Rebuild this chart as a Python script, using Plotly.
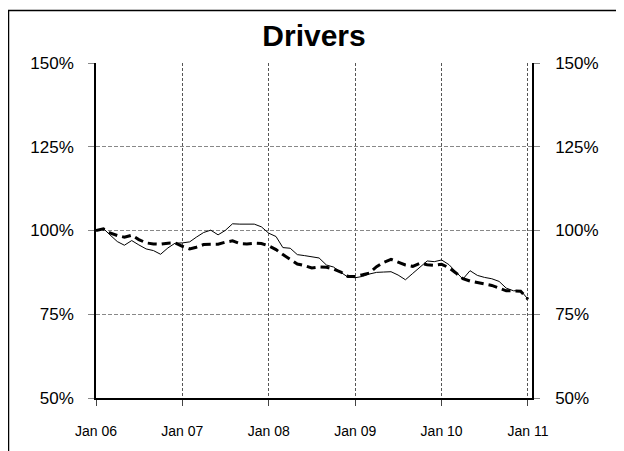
import plotly.graph_objects as go
import pandas as pd

dates = pd.date_range("2006-01-01", "2011-01-01", freq="MS")

solid_vals = [
    100.0, 100.6, 98.7, 96.7, 95.6, 97.0, 95.7, 94.5, 94.0, 92.9, 94.8, 96.2,
    96.3, 96.6, 98.0, 99.4, 100.1, 98.7, 100.0, 102.0, 101.9, 101.9, 101.9, 101.1,
    99.2, 98.2, 94.9, 94.7, 92.8, 92.5, 92.2, 91.8, 89.7, 89.1, 87.5, 86.1,
    85.9, 86.3, 87.0, 87.5, 87.6, 87.7, 86.7, 85.3, 87.2, 89.0, 90.9, 90.7,
    91.2, 89.8, 87.6, 85.5, 88.0, 86.6, 86.0, 85.6, 84.8, 82.8, 82.0, 82.1,
    79.5,
]
dashed_vals = [
    100.0, 100.5, 99.3, 98.5, 98.0, 98.6, 97.3, 96.3, 96.0, 95.9, 96.2, 96.3,
    95.3, 94.5, 95.0, 95.8, 95.9, 95.9, 96.5, 96.9, 96.1, 96.0, 96.2, 96.1,
    95.4, 94.3, 92.8, 91.4, 90.0, 89.5, 88.8, 89.1, 89.0, 88.5, 87.6, 86.3,
    86.3, 86.8, 87.3, 89.2, 90.5, 91.4, 90.5, 89.7, 89.3, 90.2, 89.8, 89.6,
    89.9, 88.9, 87.4, 85.6, 84.9, 84.5, 84.1, 83.6, 82.8, 82.0, 82.0, 81.9,
    79.5,
]

tick_vals_y = [50, 75, 100, 125, 150]
tick_text_y = ["50%", "75%", "100%", "125%", "150%"]
tick_vals_x = pd.date_range("2006-01-01", "2011-01-01", freq="YS")
tick_text_x = ["Jan 06", "Jan 07", "Jan 08", "Jan 09", "Jan 10", "Jan 11"]

fig = go.Figure()
fig.add_trace(go.Scatter(x=dates, y=solid_vals, mode="lines",
                         line=dict(color="black", width=1), showlegend=False))
fig.add_trace(go.Scatter(x=dates, y=dashed_vals, mode="lines", yaxis="y2",
                         line=dict(color="black", width=3, dash="9px,5px"),
                         showlegend=False))

fam = "Liberation Sans, Arial, sans-serif"
yfont = dict(family=fam, size=17, color="black")
xfont = dict(family=fam, size=14, color="black")
x_range = ["2006-01-01", "2011-01-18"]

W, H = 616, 443  # page body has an 8px margin
L, R, T, B = 88, 92, 55, 47
pw, ph = W - L - R, H - T - B
fig.update_layout(
    width=W, height=H,
    margin=dict(l=L, r=R, t=T, b=B),
    paper_bgcolor="white", plot_bgcolor="white",
    title=dict(text="<b>Drivers</b>", x=306 / W, xanchor="center",
               y=1 - 27 / H, yanchor="middle",
               font=dict(family=fam, size=30, color="black")),
    xaxis=dict(range=x_range, tickvals=tick_vals_x, ticktext=tick_text_x,
               showgrid=True, gridcolor="#555555", griddash="3px,2px", gridwidth=1,
               showline=True, linecolor="black", linewidth=1.5,
               ticks="outside", ticklen=6, tickcolor="#444444",
               ticklabelstandoff=13, tickfont=xfont, zeroline=False),
    yaxis=dict(range=[50, 150], tickvals=tick_vals_y, ticktext=tick_text_y,
               showgrid=True, gridcolor="#888888", griddash="4px,2px", gridwidth=1,
               showline=True, linecolor="black", linewidth=1.5,
               ticks="outside", ticklen=6, tickcolor="#888888",
               ticklabelstandoff=11, tickfont=yfont, zeroline=False),
    yaxis2=dict(range=[50, 150], tickvals=tick_vals_y, ticktext=tick_text_y,
                overlaying="y", side="right", showgrid=False,
                showline=True, linecolor="black", linewidth=1.5,
                ticks="outside", ticklen=6, tickcolor="#888888",
                ticklabelstandoff=12, tickfont=yfont, zeroline=False),
    shapes=[dict(type="rect", xref="paper", yref="paper",
                 x0=(0.5 - L) / pw, x1=(W + 20 - L) / pw,
                 y0=-(B + 20) / ph, y1=(ph + T - 1.5) / ph,
                 line=dict(color="black", width=1.5), fillcolor="rgba(0,0,0,0)",
                 layer="below")],
)

fig.write_html("out.html")
